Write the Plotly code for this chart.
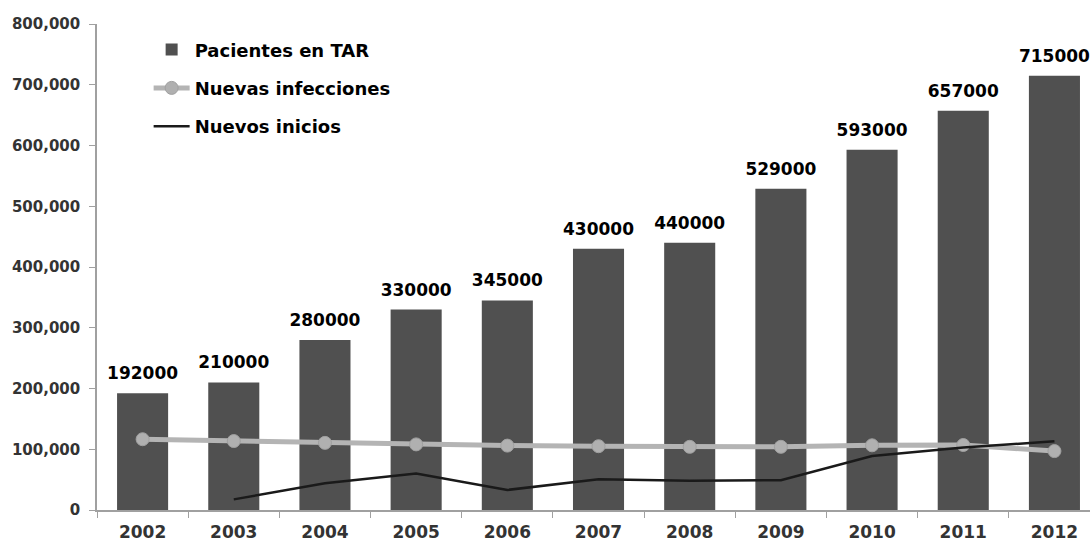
import plotly.graph_objects as go

years = ["2002", "2003", "2004", "2005", "2006", "2007", "2008", "2009", "2010", "2011", "2012"]
pacientes = [192000, 210000, 280000, 330000, 345000, 430000, 440000, 529000, 593000, 657000, 715000]
infecciones = [116500, 113500, 110500, 108000, 106000, 105000, 104000, 104000, 106500, 107000, 97000]
inicios_years = ["2003", "2004", "2005", "2006", "2007", "2008", "2009", "2010", "2011", "2012"]
inicios = [17500, 44000, 60000, 33000, 50500, 48000, 49000, 89000, 103000, 113000]
y_ticks = [0, 100000, 200000, 300000, 400000, 500000, 600000, 700000, 800000]
y_tick_labels = ["0", "100,000", "200,000", "300,000", "400,000", "500,000", "600,000", "700,000", "800,000"]

FONT = "DejaVu Sans, Liberation Sans, Arial, sans-serif"

fig = go.Figure()
fig.add_trace(go.Bar(
    x=years, y=pacientes, name="Pacientes en TAR", legendgroup="a",
    marker=dict(color="#505050", line=dict(width=0)),
))
fig.add_trace(go.Scatter(
    x=years, y=pacientes, mode="markers+text", showlegend=False, hoverinfo="skip",
    marker=dict(size=14, opacity=0),
    text=[str(v) for v in pacientes], textposition="top center",
    textfont=dict(family=FONT, size=17, color="#000000", weight="bold"),
    cliponaxis=False,
))
fig.add_trace(go.Scatter(
    x=years, y=infecciones, name="Nuevas infecciones", mode="lines+markers", legendgroup="b",
    line=dict(color="#b4b4b4", width=5),
    marker=dict(size=13, color="#b0b0b0", line=dict(color="#a0a0a0", width=1)),
))
fig.add_trace(go.Scatter(
    x=inicios_years, y=inicios, name="Nuevos inicios", mode="lines", legendgroup="c",
    line=dict(color="#1a1a1a", width=2.5),
))

fig.update_layout(
    width=1090, height=542,
    margin=dict(l=97, r=0, t=24, b=32),
    paper_bgcolor="white", plot_bgcolor="white",
    bargap=0.44,
    showlegend=True,
    legend=dict(
        x=0.052, y=0.985, xanchor="left", yanchor="top",
        bgcolor="rgba(0,0,0,0)",
        font=dict(family=FONT, size=18, color="#000000", weight="bold"),
        tracegroupgap=12, itemwidth=36,
    ),
    font=dict(family=FONT),
)
fig.update_xaxes(
    type="category", categoryorder="array", categoryarray=years,
    range=[-0.5, 10.39], automargin=False,
    showline=True, linecolor="#a0a0a0", linewidth=1.5,
    ticks="outside", tickson="boundaries", ticklen=6, tickcolor="#a0a0a0",
    tickfont=dict(family=FONT, size=17, color="#333333", weight="bold"),
    ticklabelstandoff=6,
    showgrid=False,
)
fig.update_yaxes(
    range=[0, 800000], tickvals=y_ticks, ticktext=y_tick_labels, automargin=False,
    showline=True, linecolor="#a0a0a0", linewidth=1.5,
    ticks="outside", ticklen=6, tickcolor="#a0a0a0",
    tickfont=dict(family=FONT, size=15, color="#333333", weight="bold"),
    ticklabelstandoff=6,
    showgrid=False, zeroline=False,
)

fig.write_html("out.html", config={"displayModeBar": False},
               post_script="document.body.style.margin='0';")
